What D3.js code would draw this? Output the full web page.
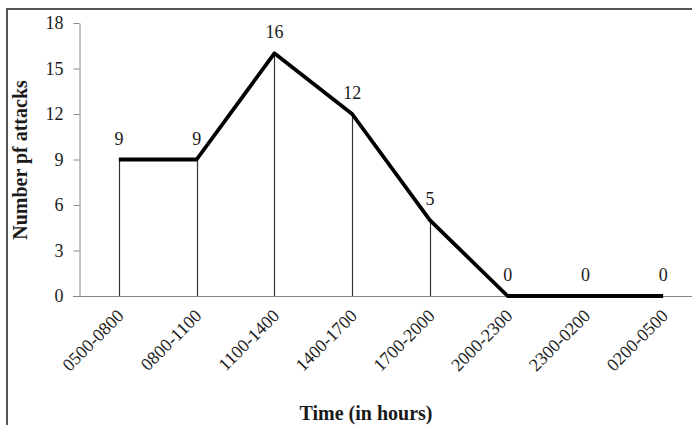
<!DOCTYPE html>
<html>
<head>
<meta charset="utf-8">
<script src="https://cdn.jsdelivr.net/npm/d3@7"></script>
<style>
  html, body { margin: 0; padding: 0; background: #fff; }
  svg { display: block; }
  text { font-family: "Liberation Serif", "Times New Roman", serif; fill: #1a1a1a; }
</style>
</head>
<body>
<svg id="chart" width="692" height="425"></svg>
<script>
const categories = ["0500-0800", "0800-1100", "1100-1400", "1400-1700", "1700-2000", "2000-2300", "2300-0200", "0200-0500"];
const attacks = [9, 9, 16, 12, 5, 0, 0, 0];
const yTicks = [0, 3, 6, 9, 12, 15, 18];
const yTitle = "Number pf attacks";
const xTitle = "Time (in hours)";

const svg = d3.select("#chart");

// outer frame (cropped on right and bottom)
svg.append("path")
  .attr("d", "M7,425 V9 H692")
  .attr("fill", "none").attr("stroke", "#555").attr("stroke-width", 2);

const x = d3.scaleBand().domain(categories).range([80, 702]);
const y = d3.scaleLinear().domain([0, 18]).range([296, 23]);
const cx = d => x(d) + x.bandwidth() / 2;

// y axis
const yAxis = svg.append("g").attr("transform", "translate(79.5,0)")
  .call(d3.axisLeft(y).tickValues(yTicks).tickSize(6).tickPadding(10).tickSizeOuter(0));
yAxis.select(".domain").attr("stroke", "#888");
yAxis.selectAll(".tick line").attr("stroke", "#888");
yAxis.selectAll(".tick text").attr("font-size", 18).attr("fill", "#1a1a1a")
  .attr("font-family", "Liberation Serif");

// x axis line
svg.append("line")
  .attr("x1", 73).attr("x2", 692)
  .attr("y1", y(0) + 0.5).attr("y2", y(0) + 0.5)
  .attr("stroke", "#888").attr("stroke-width", 1);

// x tick labels
const xAxis = svg.append("g").attr("transform", `translate(0,${y(0)})`)
  .call(d3.axisBottom(x).tickSize(0).tickPadding(0));
xAxis.select(".domain").remove();
xAxis.selectAll(".tick text")
  .attr("font-size", 18).attr("fill", "#1a1a1a").attr("font-family", "Liberation Serif")
  .attr("text-anchor", "end")
  .attr("dy", 0)
  .attr("transform", "translate(6,21) rotate(-45)");

// drop lines
svg.append("g").selectAll("line")
  .data(categories.map((c, i) => ({ c, v: attacks[i] })).filter(d => d.v > 0))
  .join("line")
  .attr("x1", d => Math.round(cx(d.c)) + 0.5).attr("x2", d => Math.round(cx(d.c)) + 0.5)
  .attr("y1", d => y(d.v)).attr("y2", y(0))
  .attr("stroke", "#333").attr("stroke-width", 1.2);

// main line
const line = d3.line().x((d, i) => cx(categories[i])).y(d => y(d));
svg.append("path")
  .datum(attacks)
  .attr("d", line)
  .attr("fill", "none").attr("stroke", "#000").attr("stroke-width", 3.8)
  .attr("stroke-linejoin", "round");

// data labels
svg.append("g").selectAll("text")
  .data(attacks)
  .join("text")
  .attr("x", (d, i) => cx(categories[i]))
  .attr("y", d => y(d) - 15)
  .attr("text-anchor", "middle")
  .attr("font-size", 18)
  .text(d => d);

// axis titles
svg.append("text")
  .attr("transform", "translate(27,160) rotate(-90)")
  .attr("text-anchor", "middle")
  .attr("font-size", 20).attr("font-weight", "bold")
  .text(yTitle);

svg.append("text")
  .attr("x", 366).attr("y", 420)
  .attr("text-anchor", "middle")
  .attr("font-size", 20).attr("font-weight", "bold")
  .text(xTitle);
</script>
</body>
</html>
